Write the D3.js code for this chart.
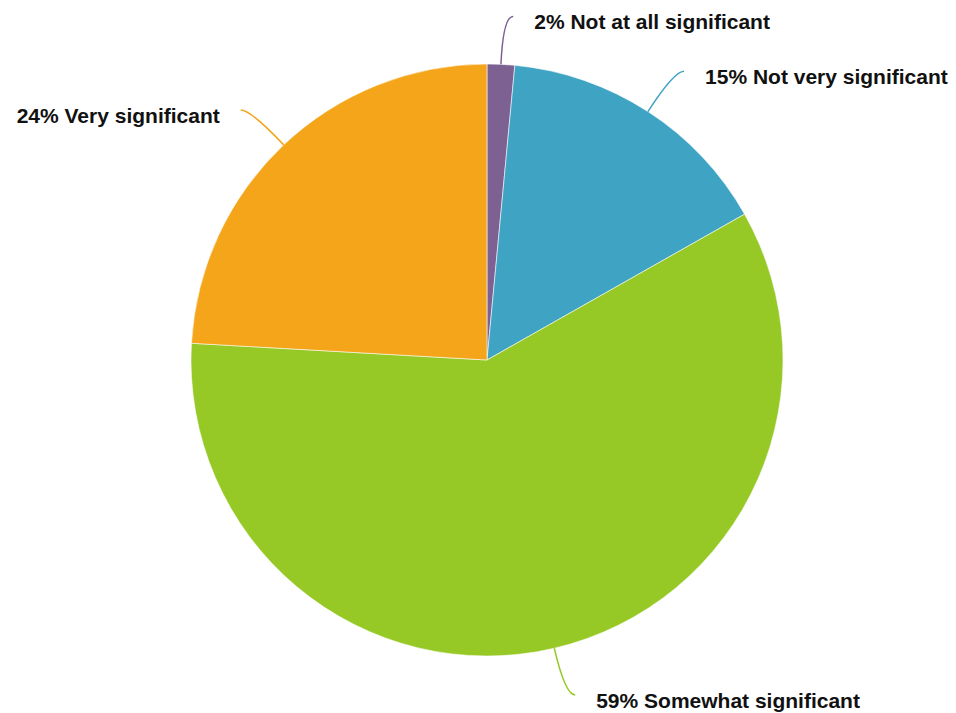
<!DOCTYPE html>
<html><head><meta charset="utf-8">
<script src="https://cdn.jsdelivr.net/npm/d3@7"></script>
<style>body{margin:0;background:#fff}svg{display:block}</style>
</head><body>
<svg id="c" width="956" height="713"></svg>
<script>
const categories = ["Not at all significant","Not very significant","Somewhat significant","Very significant"];
const values = [1.5, 15.3, 59.1, 24.1];
const colors = ["#7e6193","#3fa3c4","#96c926","#f5a51a"];

const W=956,H=713,cx=487,cy=360,R=296;
const svg=d3.select("#c");
const g=svg.append("g").attr("transform",`translate(${cx},${cy})`);
const data=categories.map((c,i)=>({c,v:values[i],col:colors[i]}));
const pie=d3.pie().value(d=>d.v).sort(null);
const arcs=pie(data);
const arc=d3.arc().innerRadius(0).outerRadius(R);
g.selectAll("path.s").data(arcs).join("path").attr("class","s")
 .attr("d",arc).attr("fill",d=>d.data.col)
 .attr("stroke","#fff").attr("stroke-width",0.8).attr("stroke-opacity",0.7);

const ext=48, tail=10, gap=21;
arcs.forEach(a=>{
  const m=(a.startAngle+a.endAngle)/2;
  const dx=Math.sin(m), dy=-Math.cos(m);
  const p0=[R*dx,R*dy], p1=[(R+ext)*dx,(R+ext)*dy];
  const side=dx>=0?1:-1;
  const p2=[p1[0]+side*tail,p1[1]];
  const path=d3.path();
  path.moveTo(p0[0],p0[1]); path.quadraticCurveTo(p1[0],p1[1],p2[0],p2[1]);
  g.append("path").attr("d",path.toString()).attr("fill","none")
   .attr("stroke",a.data.col).attr("stroke-width",1.5);
  g.append("text").attr("x",p2[0]+side*gap).attr("y",p2[1]+13)
   .attr("text-anchor",side>0?"start":"end")
   .attr("font-family","Liberation Sans, Arial, sans-serif")
   .attr("font-weight","bold").attr("font-size",21).attr("fill","#111")
   .text(Math.round(a.data.v)+"% "+a.data.c);
});
</script>
</body></html>
